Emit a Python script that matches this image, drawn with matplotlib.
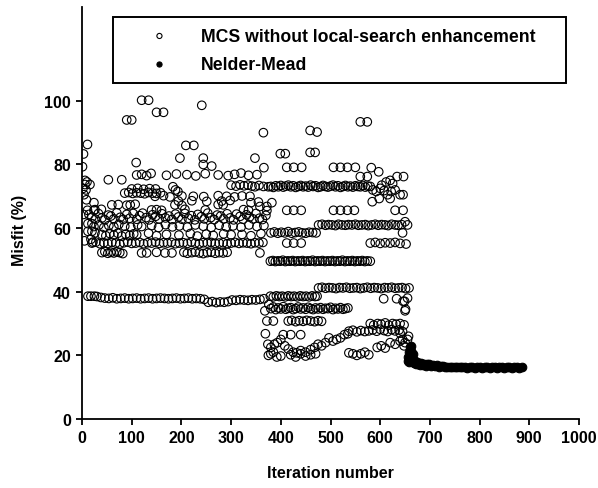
import numpy as np
import matplotlib
matplotlib.use('Agg')
import matplotlib.pyplot as plt

plt.rcParams['font.family'] = ['Liberation Sans', 'DejaVu Sans']
plt.rcParams['font.weight'] = 'bold'
#-----------------------------------------
# MCS without local-search enhancement
# early scatter and high outliers
mcs_top_it = [1, 3, 11, 6, 10, 2, 8, 4, 9, 24, 11, 24, 3, 14, 12, 20, 12, 20, 26, 5, 18, 22,
              90, 100, 109, 120, 134, 150, 164, 197, 209, 225, 241, 244, 244, 261, 348, 365, 366,
              399, 409, 459, 469, 459, 473, 560, 574, 53, 80, 6, 16]
mcs_top_m = [79.3, 83.3, 86.3, 75.0, 74.5, 72.5, 72.0, 70.5, 68.9, 68.0, 65.6, 65.6, 64.3, 64.3, 61.4, 61.4, 59.0, 59.0, 58.5, 56.0, 56.5, 55.6,
             94.0, 94.0, 80.6, 100.2, 100.2, 96.4, 96.4, 82.0, 86.0, 86.0, 98.6, 82.0, 80.0, 79.5, 82.0, 90.0, 79.0,
             83.4, 83.4, 83.8, 83.8, 90.7, 90.2, 93.4, 93.4, 75.2, 75.2, 73.7, 73.7]
# rows between 65 and 80
mcs_high_it = [110, 120, 130, 139, 170, 190, 211, 229, 248, 274, 294, 307, 320, 335, 352,
               412, 426, 442, 506, 520, 534, 550, 582, 597, 560, 574, 634, 647, 620,
               183, 188, 193, 300, 310, 318, 326, 334, 342, 348, 356, 365, 375,
               380, 385, 390, 395, 400, 405, 410, 415, 420, 425, 430, 435, 440, 445, 450, 455, 460, 465,
               470, 475, 480, 485, 490, 495, 500, 505, 510, 515, 520, 525, 530, 535, 540, 545, 550, 555,
               560, 565, 570, 575, 580,
               585, 592, 600, 603, 608, 612, 615, 622, 625, 630, 640, 584, 598, 620, 646, 382,
               86, 94, 102, 110, 118, 126, 134, 142, 150, 158, 100, 112, 124, 136, 148,
               147, 164, 177, 201, 224, 245, 274, 291, 307, 322, 338,
               194, 221, 251, 281, 298, 340, 355,
               60, 73, 90, 97, 107, 187, 201, 274, 284, 358, 372,
               26, 39, 140, 150, 160, 207, 248, 325, 335, 372,
               412, 426, 441, 506, 520, 534, 548, 630, 646]
mcs_high_m = [76.7, 76.9, 76.5, 77.2, 76.6, 77.0, 76.8, 76.4, 77.1, 76.7, 76.5, 76.9, 77.3, 76.6, 76.8,
              79.1, 79.1, 79.1, 79.1, 79.1, 79.1, 79.1, 79.0, 77.7, 76.2, 76.2, 76.2, 76.2, 75.0,
              73.0, 72.0, 71.5, 73.5, 73.2, 73.6, 73.3, 73.5, 73.2, 73.0, 73.4, 73.1, 73.0,
              73.1, 72.8, 73.3, 73.0, 73.4, 72.9, 73.2, 73.5, 73.0, 73.3, 72.8, 73.1, 73.4, 73.0, 73.2, 72.9, 73.5, 73.1,
              73.3, 72.8, 73.0, 73.4, 73.1, 72.9, 73.2, 73.5, 73.0, 73.3, 72.8, 73.1, 73.4, 73.0, 73.2, 72.9, 73.3, 73.1,
              73.0, 73.4, 72.9, 73.2, 73.1,
              72.0, 71.5, 72.5, 73.5, 71.8, 74.5, 70.5, 71.5, 74.0, 72.0, 70.5, 68.3, 69.3, 69.3, 70.5, 68.0,
              71.0, 71.2, 70.9, 71.1, 71.0, 70.8, 71.2, 71.0, 70.9, 71.1, 72.3, 72.5, 72.2, 72.4, 72.3,
              70.0, 70.2, 69.8, 70.1, 70.0, 69.9, 70.2, 70.0, 69.8, 70.1, 70.0,
              68.5, 68.6, 68.4, 68.5, 68.7, 68.0, 68.2,
              67.3, 67.4, 67.2, 67.3, 67.5, 67.3, 67.1, 67.4, 67.3, 66.8, 66.8,
              65.8, 65.9, 65.7, 65.8, 65.6, 65.9, 65.7, 65.8, 65.6, 65.5,
              65.6, 65.6, 65.6, 65.6, 65.6, 65.6, 65.6, 65.6, 65.6]
# dense band 55-65
mcs_mid_it = [20, 27, 33, 40, 46, 53, 58, 64, 70, 77, 83, 90, 96, 103, 110, 116, 122, 129, 135, 142,
              148, 155, 161, 168, 175, 181, 188, 194, 201, 207, 214, 220, 227, 233, 240, 246, 253, 259,
              266, 272, 279, 285, 292, 298, 305, 311, 318, 324, 331, 337, 344, 350, 357, 363, 370,
              24, 34, 44, 54, 64, 74, 86, 98, 112, 120, 140, 154, 168, 182, 196, 212, 228, 244, 260,
              276, 290, 304, 320, 336, 352, 366,
              40, 48, 56, 64, 72, 80, 88, 96, 104, 110, 134, 150, 170, 195, 218, 232, 250, 264, 285,
              300, 322, 340, 360,
              20, 28, 36, 44, 52, 60, 68, 76, 84, 92, 100, 108, 116, 124, 132, 140, 148, 156, 164, 172,
              180, 188, 196, 204, 212, 220, 228, 236, 244, 252, 260, 268, 276, 284, 292, 300, 308, 316,
              324, 332, 340, 348, 356, 364,
              40, 46, 52, 58, 64, 70, 76, 82, 120, 130, 150, 167, 181, 205, 212, 221, 228, 236, 244,
              252, 260, 268, 276, 284, 292, 358,
              380, 387, 394, 401, 408, 415, 422, 429, 436, 443, 450, 457, 464, 471,
              476, 483, 490, 496, 503, 510, 516, 523, 530, 536, 543, 550, 556, 563, 570, 576, 583, 590,
              596, 603, 610, 616, 623, 630, 636, 643, 650, 655, 645,
              412, 426, 441, 580, 590, 600, 610, 620, 630, 640, 652]
mcs_mid_m = [63.5, 62.8, 64.6, 63.2, 62.6, 64.1, 63.8, 62.9, 64.8, 63.4, 62.7, 64.3, 63.1, 64.6, 62.8, 63.9, 64.7, 63.3, 62.6, 64.2,
             63.7, 62.9, 64.5, 63.2, 63.8, 62.7, 64.4, 63.5, 62.8, 64.6, 63.1, 63.9, 62.6, 64.3, 63.6, 62.9, 64.7, 63.3,
             62.7, 64.1, 63.8, 62.9, 64.5, 63.2, 62.6, 64.4, 63.7, 62.8, 64.2, 63.5, 62.9, 64.6, 63.1, 62.7, 64.0,
             60.5, 61.0, 60.2, 60.8, 60.4, 61.2, 60.6, 60.3, 61.0, 60.5, 60.8, 60.2, 61.1, 60.4, 60.7, 60.3, 61.0, 60.6, 60.2,
             60.9, 60.4, 60.7, 60.3, 61.0, 60.5, 60.8,
             58.0, 57.6, 58.3, 57.8, 58.4, 57.5, 58.1, 57.7, 58.2, 57.9, 58.4, 57.6, 58.0, 57.8, 58.3, 57.5, 58.1, 57.7, 58.2,
             57.9, 58.0, 57.6, 58.3,
             55.3, 55.6, 55.1, 55.4, 55.2, 55.5, 55.3, 55.0, 55.4, 55.6, 55.2, 55.3, 55.5, 55.1, 55.4, 55.3, 55.6, 55.2, 55.4, 55.3,
             55.5, 55.1, 55.3, 55.4, 55.2, 55.6, 55.3, 55.1, 55.4, 55.3, 55.5, 55.2, 55.3, 55.4, 55.1, 55.3, 55.5, 55.2,
             55.4, 55.3, 55.1, 55.4, 55.3, 55.5,
             52.3, 52.6, 52.1, 52.4, 52.2, 52.5, 52.3, 52.0, 52.2, 52.2, 52.4, 52.2, 52.2, 52.4, 52.1, 52.3, 52.5, 52.2, 52.0,
             52.3, 52.4, 52.1, 52.3, 52.2, 52.4, 52.2,
             58.5, 58.8, 58.4, 58.7, 58.5, 58.9, 58.4, 58.6, 58.8, 58.5, 58.4, 58.7, 58.6, 58.5,
             61.0, 61.2, 60.9, 61.1, 61.0, 60.8, 61.2, 61.0, 60.9, 61.1, 61.0, 61.2, 60.9, 61.0, 61.1, 60.8, 61.0, 61.2,
             60.9, 61.1, 61.0, 60.8, 61.2, 61.0, 60.9, 61.1, 62.0, 61.0, 58.5,
             55.3, 55.3, 55.3, 55.3, 55.5, 55.2, 55.4, 55.3, 55.5, 55.2, 55.0]
# lower bands 35-52
mcs_low_it = [379, 384, 389, 394, 399, 404, 409, 414, 419, 424, 429, 434, 439, 444, 449, 454, 459, 464, 469, 474,
              479, 484, 489, 494, 499, 504, 509, 514, 519, 524, 529, 534, 539, 544, 549, 554, 559, 564, 569, 574, 580,
              476, 483, 490, 497, 504, 511, 518, 525, 532, 539, 546, 553, 560, 567, 574, 581, 588, 595, 602, 609,
              616, 623, 630, 637, 644, 651, 658, 655,
              12, 18, 25, 30, 38, 46, 54, 62, 70, 78, 86, 94, 102, 110, 118, 126, 134, 142, 150, 158, 166,
              174, 182, 190, 198, 206, 214, 222, 230, 238, 246, 254, 262, 270, 278, 286, 294, 302, 310, 318,
              326, 334, 342, 350, 358, 366,
              379, 385, 391, 397, 403, 409, 415, 421, 427, 433, 439, 445, 451, 457, 463, 469, 473,
              607, 633, 649, 651, 646, 650, 368, 376,
              380, 385, 390, 395, 400, 405, 410, 415, 420, 425, 430, 435, 440, 445, 450, 455, 460, 465, 470,
              475, 480, 485, 490, 495, 500, 505, 510, 515, 520, 525, 530, 535]
mcs_low_m = [49.6, 49.8, 49.5, 49.7, 49.6, 49.9, 49.5, 49.7, 49.6, 49.8, 49.5, 49.7, 49.6, 49.8, 49.5, 49.7, 49.6, 49.9, 49.5, 49.7,
             49.6, 49.8, 49.5, 49.7, 49.6, 49.8, 49.5, 49.7, 49.6, 49.9, 49.5, 49.7, 49.6, 49.8, 49.5, 49.7, 49.6, 49.8, 49.5, 49.7, 49.6,
             41.2, 41.4, 41.1, 41.3, 41.2, 41.0, 41.3, 41.2, 41.4, 41.1, 41.2, 41.3, 41.0, 41.2, 41.4, 41.1, 41.3, 41.2, 41.0, 41.3,
             41.2, 41.4, 41.1, 41.2, 41.3, 41.0, 41.2, 38.0,
             38.6, 38.6, 38.6, 38.5, 38.2, 38.0, 37.9, 38.1, 37.8, 37.9, 38.0, 37.8, 37.9, 38.0, 37.8, 37.9, 38.0, 37.8, 37.9, 38.0, 37.9,
             37.8, 37.9, 38.0, 37.8, 37.9, 38.0, 37.8, 37.9, 37.8, 37.6, 36.7, 36.9, 36.6, 36.8, 36.7, 36.9, 37.4, 37.3, 37.5,
             37.4, 37.3, 37.5, 37.4, 37.6, 37.8,
             38.6, 38.4, 38.7, 38.5, 38.6, 38.4, 38.7, 38.5, 38.6, 38.4, 38.7, 38.5, 38.6, 38.4, 38.7, 38.5, 38.6,
             37.8, 37.8, 37.0, 34.5, 37.0, 34.0, 34.0, 36.0,
             34.7, 35.2, 34.4, 34.9, 34.6, 35.3, 34.5, 34.8, 35.0, 34.4, 34.7, 35.2, 34.6, 34.9, 34.5, 35.1, 34.7, 34.4, 34.9,
             34.6, 35.0, 34.5, 34.8, 34.7, 35.1, 34.4, 34.8, 34.6, 35.0, 34.5, 34.7, 34.9]
# lowest bands 19-31
mcs_bot_it = [372, 369, 374, 375, 385, 415, 422, 430, 437, 445, 452, 460, 468, 475, 482,
              580, 587, 595, 602, 610, 617, 625, 632, 640, 648,
              585, 593, 600, 608, 615, 623, 630, 638, 645,
              537, 545, 553, 561, 569, 577, 405, 420, 440,
              380, 387, 393, 400, 408, 415, 425, 432, 440, 450, 460, 468, 475, 482, 490, 497, 505, 512,
              520, 528, 535,
              380, 385, 392, 400, 420, 430, 440, 450, 460, 470, 537, 545, 553, 561, 569, 577,
              594, 602, 610, 620, 630, 640, 648, 655, 640, 645, 650, 657]
mcs_bot_m = [30.8, 26.8, 23.5, 20.0, 30.8, 30.8, 31.0, 30.6, 30.9, 30.7, 31.0, 30.8, 30.6, 30.9, 30.7,
             30.0, 29.5, 30.0, 29.8, 30.2, 29.5, 30.0, 29.8, 30.0, 29.6,
             28.0, 27.6, 28.2, 27.8, 27.5, 28.1, 27.7, 28.0, 27.5,
             27.6, 27.9, 27.4, 27.8, 27.5, 27.7, 26.5, 26.5, 26.5,
             22.5, 23.5, 24.0, 25.0, 23.0, 22.0, 21.0, 20.8, 21.5, 21.0, 21.8, 22.5, 23.5, 23.0, 24.0, 25.5, 24.5, 25.0,
             25.5, 26.5, 26.8,
             20.5, 21.0, 19.5, 19.8, 20.2, 19.5, 20.5, 19.8, 20.2, 20.5, 20.8, 20.5, 20.0, 20.5, 21.0, 20.2,
             22.5, 23.0, 22.3, 24.0, 23.5, 24.5, 23.0, 25.0, 27.0, 25.0, 24.0, 26.0]

# Nelder-Mead
nm_it = [655, 656, 657, 658, 659, 660, 661, 662, 663, 664, 665, 666, 667, 668, 670, 672, 674, 676, 678, 680,
         683, 686, 689, 692, 695, 698, 702, 706, 710, 714, 718, 722, 726, 730, 735, 740, 745, 750, 755, 760,
         765, 770, 775, 780, 785, 790, 795, 800, 805, 810, 815, 820, 825, 830, 835, 840, 845, 850, 855, 860,
         865, 870, 875, 880, 885]
nm_m = [19.5, 18.2, 21.0, 18.0, 22.5, 20.0, 23.0, 21.5, 19.0, 18.4, 20.5, 17.8, 18.8, 17.5, 18.3, 17.4, 18.0, 17.2, 17.6, 16.9,
        17.6, 17.0, 17.4, 16.8, 17.2, 17.4, 16.8, 17.0, 16.7, 16.9, 16.5, 16.8, 16.6, 16.4, 16.5, 16.3, 16.3, 16.2, 16.2, 16.3,
        16.2, 16.2, 16.1, 16.2, 16.2, 16.1, 16.2, 16.2, 16.1, 16.2, 16.2, 16.1, 16.2, 16.2, 16.1, 16.2, 16.2, 16.1, 16.2, 16.2,
        16.1, 16.2, 16.2, 16.1, 16.2]
#-----------------------------------------
mcs_it = np.concatenate([mcs_top_it, mcs_high_it, mcs_mid_it, mcs_low_it, mcs_bot_it])
mcs_m = np.concatenate([mcs_top_m, mcs_high_m, mcs_mid_m, mcs_low_m, mcs_bot_m])

fig = plt.figure(figsize=(5.98, 4.89), dpi=100)
ax = fig.add_axes([82/598, 1-420/489, 497/598, 412/489])

ax.scatter(mcs_it, mcs_m, s=38, facecolors='none', edgecolors='black', linewidths=0.8,
           label='MCS without local-search enhancement', zorder=2)
ax.scatter(nm_it, nm_m, s=38, facecolors='black', edgecolors='black', linewidths=0.8,
           label='Nelder-Mead', zorder=3)

ax.set_xlim(0, 1000)
ax.set_ylim(0, 129.5)
ax.set_xticks(np.arange(0, 1001, 100))
ax.set_yticks(np.arange(0, 101, 20))
for s in ['top', 'right']:
    ax.spines[s].set_visible(False)
for s in ['left', 'bottom']:
    ax.spines[s].set_linewidth(1.3)
ax.tick_params(direction='out', length=4, width=1.3, labelsize=11.5, pad=4)
for lab in ax.get_xticklabels() + ax.get_yticklabels():
    lab.set_fontweight('bold')

ax.set_xlabel('Iteration number', fontsize=11.5, fontweight='bold')
ax.set_ylabel('Misfit (%)', fontsize=11.5, fontweight='bold')
ax.xaxis.set_label_coords(0.5, -0.112)
ax.yaxis.set_label_coords(-0.11, 0.46)

leg = ax.legend(loc='upper left', bbox_to_anchor=(112.7/598, 1-18.5/489, 453/598, 0.001),
                bbox_transform=fig.transFigure, mode='expand', fancybox=False,
                edgecolor='black', framealpha=1, prop={'size': 12.7, 'weight': 'bold'},
                markerscale=0.6, borderpad=0.6, handlelength=4.1, handletextpad=0.3,
                labelspacing=0.62, borderaxespad=0)
leg.get_frame().set_linewidth(1.4)

fig.savefig('out.png', dpi=100)
